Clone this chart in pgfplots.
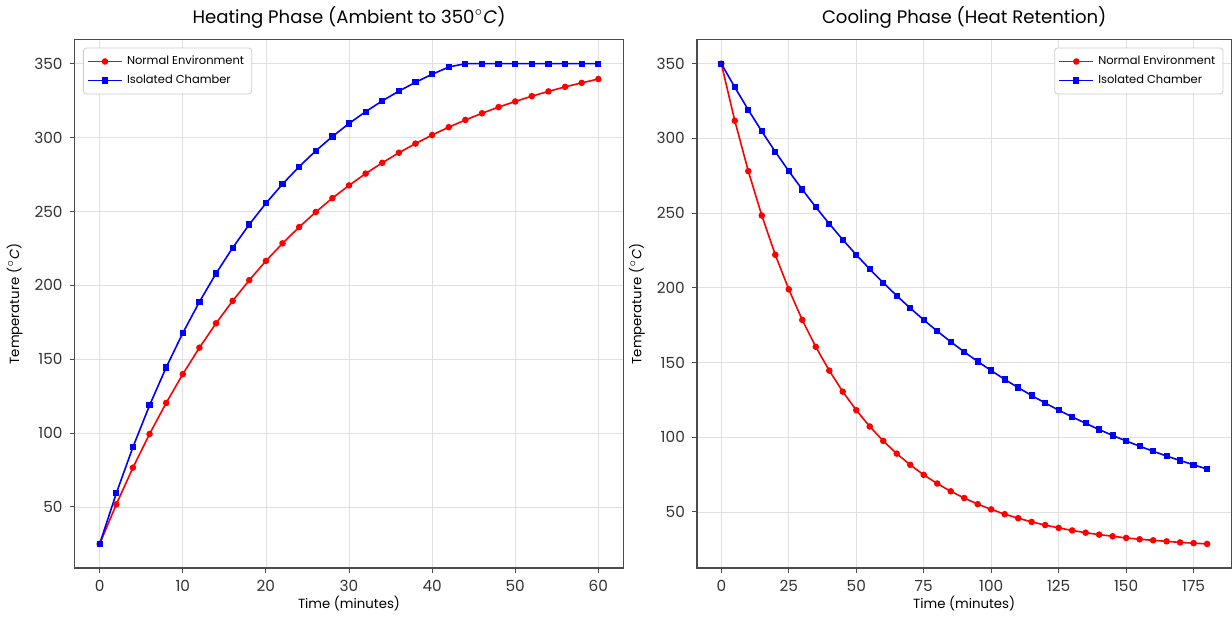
\documentclass[border=0pt]{standalone}
\usepackage{fontspec}
\setmainfont{Poppins}
\usepackage{pgfplots}
\pgfplotsset{compat=1.18}

\pgfplotsset{
  phase/.style={
    scale only axis,
    height=261.5bp,
    axis line style={black!70, line width=0.6pt},
    grid=major,
    major grid style={black!12, line width=0.4pt},
    tick style={black!70, line width=0.5pt},
    tick align=outside,
    major tick length=2.5bp,
    xtick pos=bottom, ytick pos=left,
    /pgf/number format/assume math mode=true,
    tick label style={font=\fontsize{7.6}{8.5}\selectfont, text=black!80},
    label style={font=\fontsize{6.6}{8}\selectfont},
    title style={font=\fontsize{9}{10.5}\selectfont, yshift=-4bp},
    xlabel style={yshift=4.5bp},
    ylabel style={yshift=-1bp},
    ylabel={Temperature ($^\circ$\textit{C})},
    xlabel={Time (minutes)},
    ytick={50,100,150,200,250,300,350},
    legend style={font=\fontsize{5.7}{6.5}\selectfont, draw=black!20, rounded corners=1.5pt,
      inner sep=1.8pt, row sep=-0.3pt},
    legend cell align=left,
  },
  normal/.style={red, line width=0.8pt, mark=*, mark size=1.2bp},
  isolated/.style={blue, line width=0.8pt, mark=square*, mark size=1.15bp},
}

\begin{document}
\begin{tikzpicture}
\begin{axis}[phase, name=heat,
    width=271.5bp,
    title={Heating Phase (Ambient to 350$^\circ$\textit{C})},
    xmin=-3, xmax=63, ymin=8.75, ymax=366.25,
    xtick={0,10,20,30,40,50,60},
    legend style={at={(0.015,0.985)}, anchor=north west},
]
\addplot[normal] coordinates {
(0,25) (2,51.8) (4,76.6) (6,99.4) (8,120.4) (10,139.9) (12,157.8) (14,174.3)
(16,189.5) (18,203.5) (20,216.5) (22,228.4) (24,239.4) (26,249.6) (28,259.0)
(30,267.6) (32,275.6) (34,282.9) (36,289.7) (38,295.9) (40,301.7) (42,307.0)
(44,311.9) (46,316.4) (48,320.6) (50,324.4) (52,328.0) (54,331.2) (56,334.3)
(58,337.0) (60,339.6)
};
\addlegendentry{Normal Environment}
\addplot[isolated] coordinates {
(0,25) (2,59.3) (4,90.5) (6,118.8) (8,144.4) (10,167.7) (12,188.8) (14,208.0)
(16,225.4) (18,241.2) (20,255.5) (22,268.5) (24,280.3) (26,291.0) (28,300.7)
(30,309.5) (32,317.5) (34,324.8) (36,331.4) (38,337.4) (40,342.8) (42,347.7)
(44,350) (46,350) (48,350) (50,350) (52,350) (54,350) (56,350) (58,350) (60,350)
};
\addlegendentry{Isolated Chamber}
\end{axis}

\begin{axis}[phase,
    at={(heat.south east)}, anchor=south west, xshift=36.5bp,
    width=264.5bp,
    title={Cooling Phase (Heat Retention)},
    xmin=-9, xmax=189, ymin=12.5, ymax=366.1,
    xtick={0,25,50,75,100,125,150,175},
    legend style={at={(0.985,0.985)}, anchor=north east},
]
\addplot[normal] coordinates {
(0,350) (5,311.8) (10,278.1) (15,248.4) (20,222.1) (25,199.0) (30,178.5)
(35,160.5) (40,144.6) (45,130.5) (50,118.1) (55,107.2) (60,97.5) (65,89.0)
(70,81.5) (75,74.8) (80,69.0) (85,63.8) (90,59.3) (95,55.2) (100,51.7)
(105,48.5) (110,45.8) (115,43.3) (120,41.2) (125,39.3) (130,37.6) (135,36.1)
(140,34.8) (145,33.7) (150,32.6) (155,31.7) (160,31.0) (165,30.3) (170,29.6)
(175,29.1) (180,28.6)
};
\addlegendentry{Normal Environment}
\addplot[isolated] coordinates {
(0,350) (5,334.2) (10,319.1) (15,304.7) (20,291.1) (25,278.1) (30,265.8)
(35,254.0) (40,242.9) (45,232.2) (50,222.1) (55,212.5) (60,203.4) (65,194.7)
(70,186.4) (75,178.5) (80,171.0) (85,163.9) (90,157.1) (95,150.7) (100,144.6)
(105,138.7) (110,133.2) (115,127.9) (120,122.9) (125,118.1) (130,113.6)
(135,109.3) (140,105.1) (145,101.2) (150,97.5) (155,94.0) (160,90.6)
(165,87.4) (170,84.4) (175,81.5) (180,78.7)
};
\addlegendentry{Isolated Chamber}
\end{axis}
\end{tikzpicture}
\end{document}
